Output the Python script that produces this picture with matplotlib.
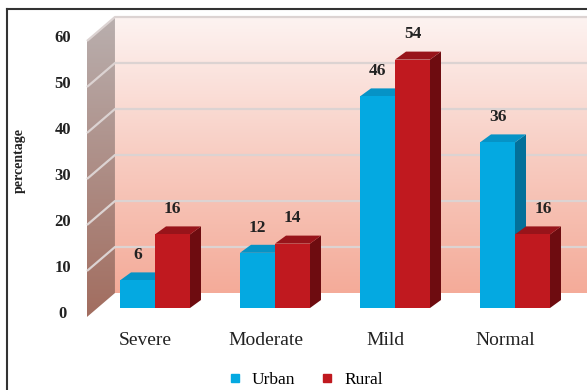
import numpy as np
import matplotlib
matplotlib.use('Agg')
import matplotlib.pyplot as plt
from matplotlib.patches import Polygon
from matplotlib.lines import Line2D
from matplotlib.colors import LinearSegmentedColormap

plt.rcParams['font.family'] = ['Liberation Serif', 'DejaVu Serif']

# data
categories = ['Severe', 'Moderate', 'Mild', 'Normal']
urban = [6, 12, 46, 36]
rural = [16, 14, 54, 16]
yticks = [0, 10, 20, 30, 40, 50, 60]

# colours (front, top, side)
blue = ('#04a9e1', '#0693c6', '#03709a')
red = ('#c0191f', '#98141a', '#6e0c10')

fig = plt.figure(figsize=(5.87, 3.90), dpi=100)
ax = fig.add_axes([0, 0, 1, 1])
ax.set_xlim(-155 / 120, 432 / 120)
ax.set_ylim(-82 / 4.6, 308 / 4.6)
ax.axis('off')

# 3d geometry (in data units)
w = 35 / 120          # bar width
ddx, ddy = 11 / 120, 8 / 4.6   # bar depth
wx0 = -0.567          # side wall, front edge
wdx, wdy = 28 / 120, 24 / 4.6  # wall depth
v0 = -9 / 4.6         # floor front baseline
ymax = yticks[-1]
xright = 3.7

# side wall with gradient
side = [(wx0, v0), (wx0 + wdx, v0 + wdy), (wx0 + wdx, ymax + v0 + wdy), (wx0, ymax + v0)]
side_cmap = LinearSegmentedColormap.from_list('side', ['#a26d5f', '#b9afae'])
grad = np.linspace(0, 1, 256).reshape(-1, 1)
im = ax.imshow(grad, extent=[wx0, wx0 + wdx, v0, ymax + v0 + wdy], origin='lower',
               cmap=side_cmap, aspect='auto', zorder=1)
side_poly = Polygon(side, closed=True, facecolor='none', edgecolor='none')
ax.add_patch(side_poly)
im.set_clip_path(side_poly)

# back wall with gradient
back_cmap = LinearSegmentedColormap.from_list('back', ['#f4ab99', '#f8cdc2', '#fdf3f1'])
ax.imshow(grad, extent=[wx0 + wdx, xright, v0 + wdy, ymax + v0 + wdy], origin='lower',
          cmap=back_cmap, aspect='auto', zorder=1)

# gridlines
for t in yticks[1:]:
    ax.plot([wx0, wx0 + wdx, xright], [t + v0, t + v0 + wdy, t + v0 + wdy],
            color='#dcd3d2', lw=1.6, zorder=2, solid_capstyle='butt')

# tick labels
for t in yticks:
    ax.text(-0.767, t - 1.3, str(t), ha='center', va='center', fontsize=12,
            fontweight='bold', color='#222222')

ax.text(-1.13, 32, 'percentage', rotation=90, ha='center', va='center',
        fontsize=10, fontweight='bold', color='#222222')


def bar3d(x0, h, cols):
    front = [(x0, 0), (x0 + w, 0), (x0 + w, h), (x0, h)]
    top = [(x0, h), (x0 + w, h), (x0 + w + ddx, h + ddy), (x0 + ddx, h + ddy)]
    sidef = [(x0 + w, 0), (x0 + w + ddx, ddy), (x0 + w + ddx, h + ddy), (x0 + w, h)]
    ax.add_patch(Polygon(sidef, closed=True, facecolor=cols[2], edgecolor='none', zorder=3))
    ax.add_patch(Polygon(top, closed=True, facecolor=cols[1], edgecolor='none', zorder=3))
    ax.add_patch(Polygon(front, closed=True, facecolor=cols[0], edgecolor='none', zorder=3))


for i, cat in enumerate(categories):
    bar3d(i - w, urban[i], blue)
    bar3d(i, rural[i], red)
    ax.text(i - w / 2, urban[i] + 5.5, str(urban[i]), ha='center', va='center',
            fontsize=12.5, fontweight='bold', color='#222222', zorder=5)
    shift = ddx if rural[i] < urban[i] else 0
    ax.text(i + w / 2 + shift, rural[i] + 5.5, str(rural[i]), ha='center', va='center',
            fontsize=12.5, fontweight='bold', color='#222222', zorder=5)
    ax.text(i - 0.08, -6.96, cat, ha='center', va='center', fontsize=14, color='#222222')

# legend
handles = [Line2D([], [], marker='s', ls='none', color=blue[0], markersize=5.5),
           Line2D([], [], marker='s', ls='none', color=red[0], markersize=5.5)]
fig.legend(handles, ['Urban', 'Rural'], loc='center', bbox_to_anchor=(300 / 587, 1 - 380 / 390),
           ncol=2, frameon=False, handletextpad=0.0, columnspacing=0.8,
           prop={'size': 12.5})

# outer frame (cropped chart border)
fig.add_artist(Line2D([7 / 587, 1], [1 - 9 / 390, 1 - 9 / 390], color='#333333', lw=1.5))
fig.add_artist(Line2D([7 / 587, 7 / 587], [0, 1 - 9 / 390], color='#333333', lw=1.5))

fig.savefig('out.png', dpi=100)
